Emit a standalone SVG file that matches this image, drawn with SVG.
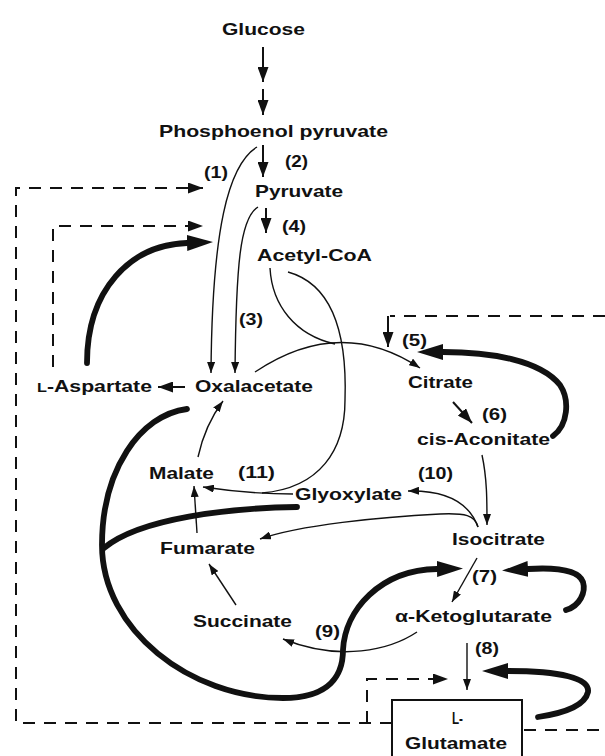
<svg xmlns="http://www.w3.org/2000/svg" width="605" height="756" viewBox="0 0 605 756">
<style>
.lbl{font-family:"Liberation Sans",Arial,sans-serif;font-weight:bold;font-size:17px;fill:#111}
.thin{fill:none;stroke:#111;stroke-width:1.4}
.med{fill:none;stroke:#111;stroke-width:2}
.thick{fill:none;stroke:#111;stroke-width:5.8;stroke-linecap:round}
.dash{fill:none;stroke:#111;stroke-width:2;stroke-dasharray:12 9}
.box{fill:none;stroke:#111;stroke-width:2}
</style>
<defs>
<marker id="aThin" markerWidth="12" markerHeight="8" refX="11" refY="4" orient="auto" markerUnits="userSpaceOnUse"><path d="M0,0 L11,4 L0,8 z" fill="#111"/></marker>
<marker id="aMed" markerWidth="15" markerHeight="11" refX="15" refY="5.5" orient="auto" markerUnits="userSpaceOnUse"><path d="M0,0 L15,5.5 L0,11 z" fill="#111"/></marker>
<marker id="aThick" markerWidth="26" markerHeight="16" refX="0" refY="8" orient="auto" markerUnits="userSpaceOnUse"><path d="M0,0 L26,8 L0,16 z" fill="#111"/></marker>
</defs>
<rect width="605" height="756" fill="#fff"/>
<g id="connectors">
  <path class="med" d="M263,47 L263,82" marker-end="url(#aMed)"/>
  <path class="med" d="M263,89 L263,115" marker-end="url(#aMed)"/>
  <path class="med" d="M263,145 L263,177" marker-end="url(#aMed)"/>
  <path class="med" d="M266,208 L266,233" marker-end="url(#aMed)"/>
  <path class="thin" d="M257,147 C228,165 212,230 211,373" marker-end="url(#aThin)"/>
  <path class="thin" d="M258,207 C240,218 236,265 235,373" marker-end="url(#aThin)"/>
  <path class="med" d="M185,387 L158,387" marker-end="url(#aMed)"/>
  <path class="thin" d="M255,372 Q340,315 420,368" marker-end="url(#aThin)"/>
  <path class="thin" d="M270,268 C272,305 295,335 335,344"/>
  <path class="thin" d="M288,272 C335,285 347,340 345,400 C345,450 320,488 262,493"/>
  <path class="thin" d="M293,494 Q250,494 203,487" marker-end="url(#aThin)"/>
  <path class="med" d="M453,402 L472,423" marker-end="url(#aMed)"/>
  <path class="thin" d="M482,455 C487,478 487,500 487,525" marker-end="url(#aThin)"/>
  <path class="thin" d="M478,527 C470,505 450,490 408,491" marker-end="url(#aThin)"/>
  <path class="thin" d="M478,527 C475,515 465,513 440,514 C380,517 300,525 260,539" marker-end="url(#aThin)"/>
  <path class="thin" d="M198,457 Q205,425 223,401" marker-end="url(#aThin)"/>
  <path class="thin" d="M197,533 L194,486" marker-end="url(#aThin)"/>
  <path class="thin" d="M236,605 L209,564" marker-end="url(#aThin)"/>
  <path class="thin" d="M477,558 L452,602" marker-end="url(#aThin)"/>
  <path class="thin" d="M417,632 C390,650 340,662 283,639" marker-end="url(#aThin)"/>
  <path class="thin" d="M467,643 L467,690" marker-end="url(#aThin)"/>
  <path class="dash" d="M392,723 L16,723 L16,188 L203,188" marker-end="url(#aMed)"/>
  <path class="dash" d="M53,367 L53,226 L203,226" marker-end="url(#aMed)"/>
  <path class="dash" d="M367,723 L367,679 L448,679" marker-end="url(#aMed)"/>
  <path class="dash" d="M605,316 L390,316"/>
  <path class="med" d="M388,316 L388,347" marker-end="url(#aMed)"/>
  <path class="dash" d="M524,730 L605,730"/>
  <path class="thick" d="M87,363 C87,290 130,245 187,243" marker-end="url(#aThick)"/>
  <path class="thick" d="M553,436 C568,425 570,400 560,385 C540,360 490,352 443,352" marker-end="url(#aThick)"/>
  <path class="thick" d="M566,610 C580,606 586,592 583,582 C579,571 560,567 528,569" marker-end="url(#aThick)"/>
  <path class="thick" d="M538,717 C565,713 585,705 588,692 C590,678 560,671 508,671" marker-end="url(#aThick)"/>
  <path class="thick" d="M187,409 C140,415 102,470 102,545 C102,630 190,698 283,698 C330,698 343,675 343,650 C345,610 380,570 437,569" marker-end="url(#aThick)"/>
  <path class="thick" d="M297,507 C230,508 140,518 104,548"/>
  <text class="lbl" x="204" y="178" textLength="24" lengthAdjust="spacingAndGlyphs">(1)</text>
  <text class="lbl" x="285" y="167" textLength="23" lengthAdjust="spacingAndGlyphs">(2)</text>
  <text class="lbl" x="239" y="325" textLength="24" lengthAdjust="spacingAndGlyphs">(3)</text>
  <text class="lbl" x="282" y="232" textLength="24" lengthAdjust="spacingAndGlyphs">(4)</text>
  <text class="lbl" x="402" y="346" textLength="25" lengthAdjust="spacingAndGlyphs">(5)</text>
  <text class="lbl" x="482" y="420" textLength="25" lengthAdjust="spacingAndGlyphs">(6)</text>
  <text class="lbl" x="472" y="582" textLength="25" lengthAdjust="spacingAndGlyphs">(7)</text>
  <text class="lbl" x="475" y="654" textLength="24" lengthAdjust="spacingAndGlyphs">(8)</text>
  <text class="lbl" x="315" y="637" textLength="25" lengthAdjust="spacingAndGlyphs">(9)</text>
  <text class="lbl" x="418" y="479" textLength="35" lengthAdjust="spacingAndGlyphs">(10)</text>
  <text class="lbl" x="238" y="478" textLength="37" lengthAdjust="spacingAndGlyphs">(11)</text>
</g>
<g id="glucose"><text class="lbl" x="222" y="35" textLength="83" lengthAdjust="spacingAndGlyphs">Glucose</text></g>
<g id="pep"><text class="lbl" x="159" y="137" textLength="229" lengthAdjust="spacingAndGlyphs">Phosphoenol pyruvate</text></g>
<g id="pyruvate"><text class="lbl" x="255" y="197" textLength="88" lengthAdjust="spacingAndGlyphs">Pyruvate</text></g>
<g id="acetylcoa"><text class="lbl" x="257" y="261" textLength="115" lengthAdjust="spacingAndGlyphs">Acetyl-CoA</text></g>
<g id="aspartate"><text class="lbl" x="37" y="392" textLength="115" lengthAdjust="spacingAndGlyphs"><tspan font-size="13">L</tspan>-Aspartate</text></g>
<g id="oxalacetate"><text class="lbl" x="195" y="392" textLength="118" lengthAdjust="spacingAndGlyphs">Oxalacetate</text></g>
<g id="citrate"><text class="lbl" x="408" y="388" textLength="65" lengthAdjust="spacingAndGlyphs">Citrate</text></g>
<g id="cisaconitate"><text class="lbl" x="417" y="445" textLength="133" lengthAdjust="spacingAndGlyphs">cis-Aconitate</text></g>
<g id="malate"><text class="lbl" x="149" y="479" textLength="65" lengthAdjust="spacingAndGlyphs">Malate</text></g>
<g id="glyoxylate"><text class="lbl" x="295" y="500" textLength="107" lengthAdjust="spacingAndGlyphs">Glyoxylate</text></g>
<g id="isocitrate"><text class="lbl" x="452" y="545" textLength="93" lengthAdjust="spacingAndGlyphs">Isocitrate</text></g>
<g id="fumarate"><text class="lbl" x="160" y="554" textLength="95" lengthAdjust="spacingAndGlyphs">Fumarate</text></g>
<g id="ketoglutarate"><text class="lbl" x="395" y="622" textLength="157" lengthAdjust="spacingAndGlyphs">α-Ketoglutarate</text></g>
<g id="succinate"><text class="lbl" x="193" y="627" textLength="99" lengthAdjust="spacingAndGlyphs">Succinate</text></g>
<g id="glutamate">
  <rect class="box" x="392" y="700" width="130" height="70"/>
  <text class="lbl" x="452" y="724" textLength="11" lengthAdjust="spacingAndGlyphs" font-size="14">L-</text>
  <text class="lbl" x="405" y="749" textLength="102" lengthAdjust="spacingAndGlyphs">Glutamate</text>
</g>
</svg>
